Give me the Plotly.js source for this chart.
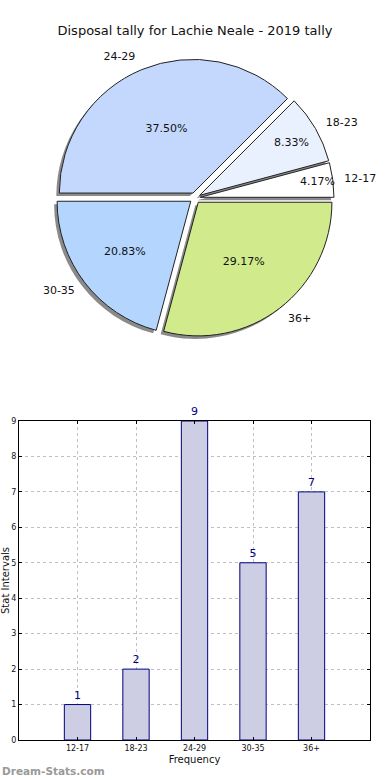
<!DOCTYPE html>
<html>
<head>
<meta charset="utf-8">
<script src="https://cdn.plot.ly/plotly-3.0.1.min.js"></script>
<style>html,body{margin:0;padding:0;background:#fff;}#chart{width:390px;height:780px;}</style>
</head>
<body>
<div id="chart"></div>
<script>
var categories = ['12-17', '18-23', '24-29', '30-35', '36+'];
var counts = [1, 2, 9, 5, 7];
var sliceColors = ['#ffffff', '#eaf1fe', '#c4d8fe', '#b4d6fe', '#d0ea8c'];
var yTicks = [0, 1, 2, 3, 4, 5, 6, 7, 8, 9];
var titleText = 'Disposal tally for Lachie Neale - 2019 tally';

var W = 390, H = 780;
var cx = 195, cy = 198, R = 139, pullAmt = 0.04;
function dom(dx, dy, r) {
  return {
    x: [(cx - r + dx) / W, (cx + r + dx) / W],
    y: [1 - (cy + r + dy) / H, 1 - (cy - r + dy) / H]
  };
}
var pulls = categories.map(function () { return pullAmt; });
var font = 'DejaVu Sans, sans-serif';

var shadow = {
  type: 'pie', values: counts, labels: categories, sort: false,
  direction: 'counterclockwise', rotation: 75, pull: pulls,
  domain: dom(-3, 3, R),
  marker: { colors: categories.map(function () { return '#8a8a8a'; }), line: { width: 0 } },
  textinfo: 'none', hoverinfo: 'skip', showlegend: false
};
var pie = {
  type: 'pie', values: counts, labels: categories, sort: false,
  direction: 'counterclockwise', rotation: 75, pull: pulls,
  domain: dom(0, 0, R),
  marker: { colors: sliceColors, line: { color: '#222', width: 1 } },
  texttemplate: '%{percent:.2%}', textposition: 'inside',
  insidetextorientation: 'horizontal',
  textfont: { family: font, size: 11, color: '#111' },
  hoverinfo: 'label+percent', showlegend: false
};
var pieLabels = {
  type: 'pie', values: counts, labels: categories, sort: false,
  direction: 'counterclockwise', rotation: 75, pull: pulls,
  domain: dom(0, 0, R * 1.06),
  marker: { colors: categories.map(function () { return 'rgba(0,0,0,0)'; }), line: { width: 0 } },
  textinfo: 'label', textposition: 'outside',
  outsidetextfont: { family: font, size: 11, color: '#111' },
  hoverinfo: 'skip', showlegend: false
};
var bars = {
  type: 'bar', x: categories, y: counts, width: 0.45,
  marker: { color: '#cdcde3', line: { color: '#000080', width: 1 } },
  text: counts.map(String), textposition: 'outside', cliponaxis: false,
  textfont: { family: font, size: 11, color: '#000080' },
  xaxis: 'x', yaxis: 'y', showlegend: false
};

var layout = {
  width: W, height: H,
  margin: { l: 0, r: 0, t: 0, b: 0 },
  paper_bgcolor: '#fff', plot_bgcolor: '#fff',
  font: { family: font, size: 10, color: '#111' },
  showlegend: false,
  uniformtext: { mode: 'show', minsize: 11 },
  title: { text: titleText, x: 0.5, xanchor: 'center', y: 1 - 30 / H, yanchor: 'middle',
           font: { family: font, size: 13, color: '#111' } },
  xaxis: {
    domain: [19 / W, 370 / W], range: [-1, 5], type: 'category',
    showline: true, linecolor: '#000', linewidth: 1, mirror: 'ticks',
    ticks: 'inside', ticklen: 3, tickcolor: '#000',
    showgrid: true, gridcolor: '#c0c0c0', griddash: 'dot', gridwidth: 1,
    tickfont: { family: font, size: 8, color: '#111' },
    title: { text: 'Frequency', font: { family: font, size: 10, color: '#111' }, standoff: 4 },
    zeroline: false, fixedrange: true
  },
  yaxis: {
    domain: [1 - 740 / H, 1 - 421 / H], range: [0, 9],
    tickvals: yTicks, ticktext: yTicks.map(String),
    showline: true, linecolor: '#000', linewidth: 1, mirror: 'ticks',
    ticks: 'inside', ticklen: 3, tickcolor: '#000',
    showgrid: true, gridcolor: '#c0c0c0', griddash: 'dot', gridwidth: 1,
    tickfont: { family: font, size: 8, color: '#111' },
    title: { text: 'Stat Intervals', font: { family: font, size: 10, color: '#111' }, standoff: 4 },
    zeroline: false, fixedrange: true
  },
  annotations: [{
    text: '<b>Dream-Stats.com</b>', xref: 'paper', yref: 'paper',
    x: 0, y: 1 - 771 / H, xanchor: 'left', yanchor: 'middle', showarrow: false,
    font: { family: font, size: 10.5, color: '#999999' }
  }]
};

Plotly.newPlot('chart', [shadow, pie, pieLabels, bars], layout, { displayModeBar: false, staticPlot: true });
</script>
</body>
</html>
